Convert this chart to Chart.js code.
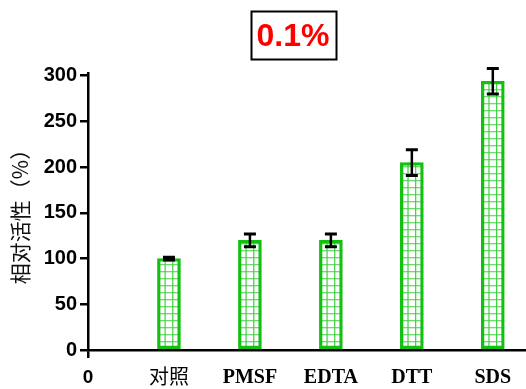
<!DOCTYPE html>
<html>
<head>
<meta charset="utf-8">
<script src="https://cdn.jsdelivr.net/npm/chart.js@4"></script>
<style>
  html, body { margin: 0; padding: 0; background: #fff; }
  #wrap { width: 526px; height: 389px; }
</style>
</head>
<body>
<div id="wrap"><canvas id="c" width="526" height="389"></canvas></div>
<script>
// Tick labels along the x axis (position 0 is the origin)
const xLabels = ['0', '对照', 'PMSF', 'EDTA', 'DTT', 'SDS'];
// Treatments and their relative activity (%) with standard deviation
const groups = ['对照', 'PMSF', 'EDTA', 'DTT', 'SDS'];
const activity = [100, 120, 120, 205, 294];
const errors = [1.5, 7, 7, 14, 14];
const yTicks = [0, 50, 100, 150, 200, 250, 300];
const titleText = '0.1%';
const yTitle = '相对活性（%）';

const barGreen = '#12c012';
const cellGreen = '#3fd03f';

// Green cross-hatch inside every bar, laid out from the bar's own geometry
const hatchPlugin = {
  id: 'hatch',
  beforeDatasetsDraw(chart) {
    const ctx = chart.ctx;
    const meta = chart.getDatasetMeta(0);
    ctx.save();
    ctx.strokeStyle = cellGreen;
    ctx.lineWidth = 1.2;
    meta.data.forEach(bar => {
      const left = bar.x - bar.width / 2, right = bar.x + bar.width / 2;
      const top = bar.y, bottom = bar.base;
      ctx.beginPath();
      const step = bar.width / 3;
      for (let k = 1; k < 3; k++) {
        const x = left + k * step;
        ctx.moveTo(x, top); ctx.lineTo(x, bottom);
      }
      for (let y = bottom - 7; y > top + 1; y -= 7) {
        ctx.moveTo(left, y); ctx.lineTo(right, y);
      }
      ctx.stroke();
    });
    ctx.restore();
  }
};

// Error bars (mean ± SD) drawn through the y scale
const errorBarPlugin = {
  id: 'errorBars',
  afterDatasetsDraw(chart) {
    const ctx = chart.ctx;
    const y = chart.scales.y;
    const meta = chart.getDatasetMeta(0);
    ctx.save();
    ctx.strokeStyle = '#000';
    meta.data.forEach((bar, i) => {
      const hi = y.getPixelForValue(activity[i] + errors[i]);
      const lo = y.getPixelForValue(activity[i] - errors[i]);
      const half = 6;
      ctx.lineWidth = 2.5;
      ctx.beginPath();
      ctx.moveTo(bar.x, hi); ctx.lineTo(bar.x, lo);
      ctx.stroke();
      ctx.lineWidth = 3;
      ctx.beginPath();
      ctx.moveTo(bar.x - half, hi); ctx.lineTo(bar.x + half, hi);
      ctx.moveTo(bar.x - half, lo); ctx.lineTo(bar.x + half, lo);
      ctx.stroke();
    });
    ctx.restore();
  }
};

// Boxed red heading above the plot
const boxedTitlePlugin = {
  id: 'boxedTitle',
  afterDraw(chart) {
    const ctx = chart.ctx;
    ctx.save();
    ctx.font = 'bold 32px "Liberation Sans", Arial, sans-serif';
    ctx.fillStyle = '#ff0000';
    ctx.textAlign = 'center';
    ctx.textBaseline = 'middle';
    const cx = 293, cy = 37;
    ctx.fillText(titleText, cx, cy);
    const w = ctx.measureText(titleText).width;
    ctx.strokeStyle = '#000';
    ctx.lineWidth = 2;
    ctx.strokeRect(Math.round(cx - w / 2 - 6) + 0.5, 11.5, Math.round(w + 12), 48);
    ctx.restore();
  }
};

new Chart(document.getElementById('c'), {
  type: 'bar',
  data: {
    datasets: [{
      data: groups.map((g, i) => ({ x: i + 1, y: activity[i] })),
      backgroundColor: 'rgba(255,255,255,0)',
      borderColor: barGreen,
      borderWidth: 2.6,
      borderSkipped: false,
      barThickness: 23
    }]
  },
  options: {
    responsive: false,
    animation: false,
    layout: { padding: { top: 73, right: 0, left: 0, bottom: 0 } },
    plugins: { legend: { display: false }, tooltip: { enabled: false }, title: { display: false } },
    scales: {
      x: {
        type: 'linear',
        offset: false,
        min: 0,
        max: 5.41,
        afterBuildTicks(scale) {
          scale.ticks = xLabels.map((l, i) => ({ value: i }));
        },
        afterFit(scale) { scale.height = 39; },
        ticks: {
          autoSkip: false,
          maxRotation: 0,
          padding: 8,
          color: '#000',
          callback: (v) => xLabels[v] !== undefined ? xLabels[v] : '',
          font: (ctx) => {
            const i = ctx.index;
            if (i === 0) return { family: '"Liberation Sans", Arial, sans-serif', size: 19, weight: 'bold' };
            if (i === 1) return { family: '"Noto Sans CJK SC", sans-serif', size: 20, weight: 'normal', lineHeight: 1.0 };
            return { family: '"Liberation Serif", "Times New Roman", serif', size: 20, weight: 'bold' };
          }
        },
        grid: {
          offset: false,
          drawOnChartArea: false,
          tickLength: 8,
          lineWidth: 2.5,
          color: (ctx) => (ctx.tick && ctx.tick.value === 0) ? '#000' : 'rgba(0,0,0,0)'
        },
        border: { display: true, color: '#000', width: 2.5 }
      },
      y: {
        min: 0,
        max: 303,
        afterBuildTicks(scale) {
          scale.ticks = yTicks.map(v => ({ value: v }));
        },
        afterFit(scale) { scale.width = 88; },
        ticks: {
          padding: 3,
          color: '#000',
          font: { family: '"Liberation Sans", Arial, sans-serif', size: 20, weight: 'bold' }
        },
        grid: {
          drawOnChartArea: false,
          tickLength: 8,
          lineWidth: 2.5,
          color: '#000'
        },
        border: { display: true, color: '#000', width: 2.5 },
        title: {
          display: true,
          text: yTitle,
          color: '#111',
          padding: { top: 7, bottom: 0 },
          font: { family: '"Noto Sans CJK SC", sans-serif', size: 21, weight: 'normal' }
        }
      }
    }
  },
  plugins: [hatchPlugin, errorBarPlugin, boxedTitlePlugin]
});
</script>
</body>
</html>
